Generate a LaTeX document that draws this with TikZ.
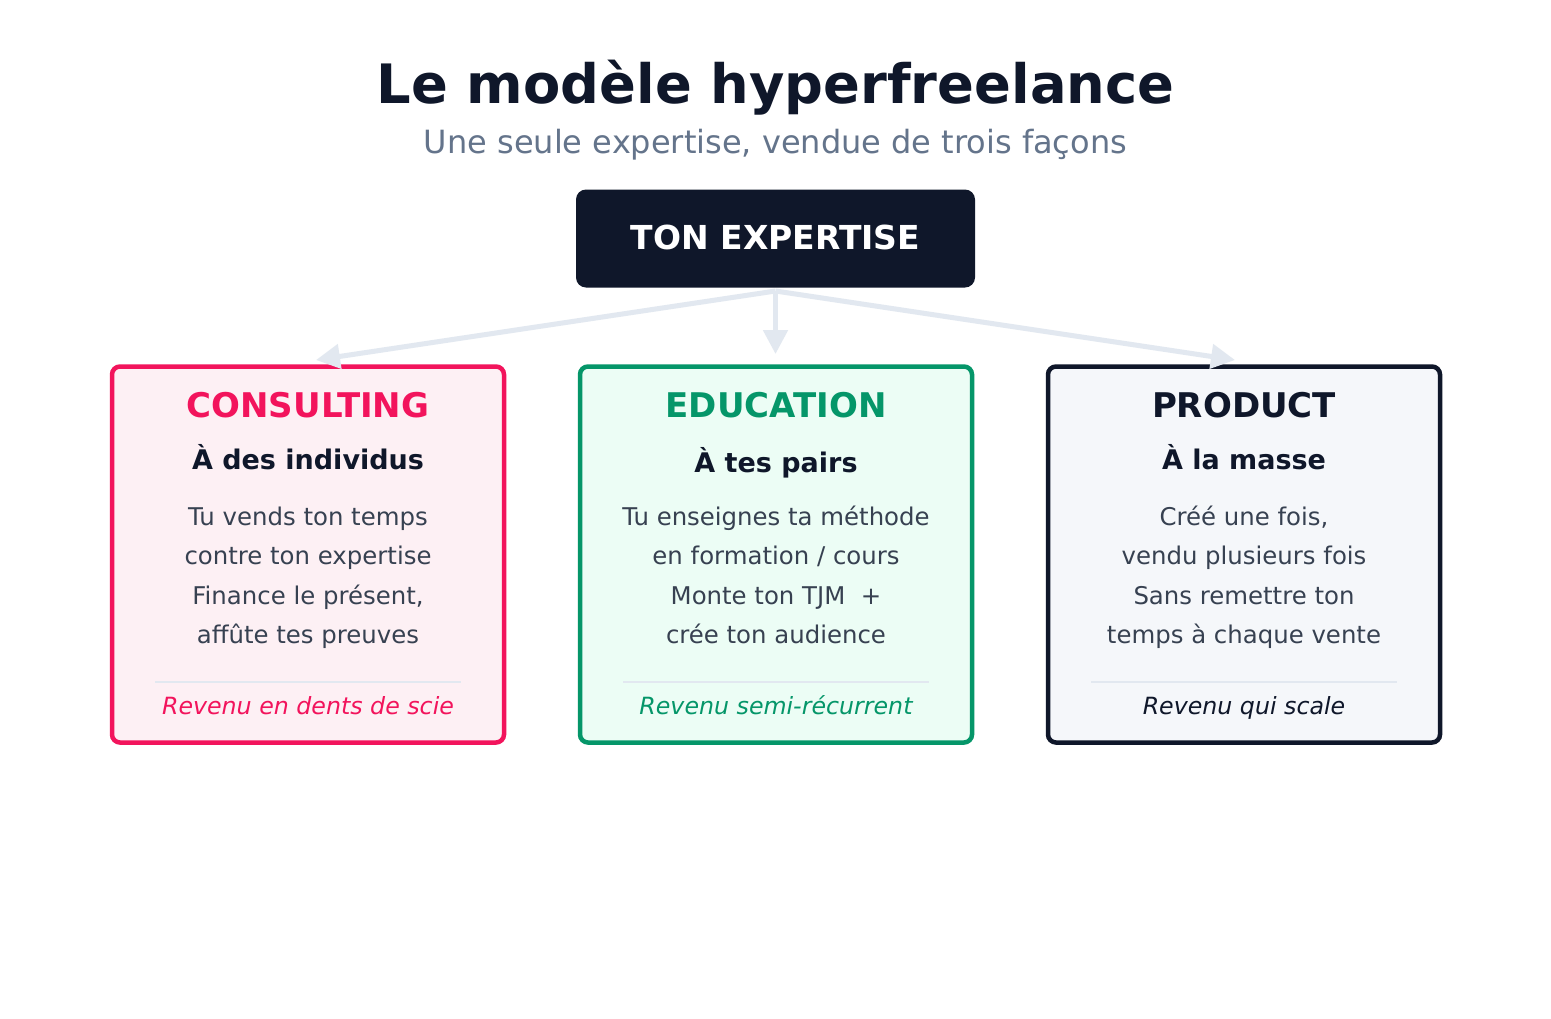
\documentclass[tikz,border=0pt]{standalone}
\usepackage{fontspec}
\setmainfont{DejaVu Sans}
\usetikzlibrary{arrows.meta}
\definecolor{ink}{HTML}{0F172A}
\definecolor{subgray}{HTML}{64748B}
\definecolor{bodygray}{HTML}{374151}
\definecolor{edge}{HTML}{E2E8F0}
\definecolor{pinkc}{HTML}{F2145C}
\definecolor{pinkbg}{HTML}{FDF0F4}
\definecolor{greenc}{HTML}{059669}
\definecolor{greenbg}{HTML}{ECFDF5}
\definecolor{darkbg}{HTML}{F5F7FA}
\tikzset{
  txt/.style={anchor=base, inner sep=0pt, outer sep=0pt},
  cardbox/.style={rectangle, rounded corners=8pt, line width=4.5pt, minimum width=392pt, minimum height=376pt, inner sep=0pt},
  cardtitle/.style={txt, font=\fontsize{34}{38}\selectfont\bfseries},
  cardsub/.style={txt, text=ink, font=\fontsize{27}{30}\selectfont\bfseries},
  bodytxt/.style={txt, text=bodygray, font=\fontsize{24.4}{28}\selectfont},
  foottxt/.style={txt, font=\fontsize{23.7}{28}\selectfont\itshape},
  sepline/.style={draw=edge, line width=2.5pt},
  arr/.style={draw=edge, line width=5pt, -{Triangle[length=24pt,width=24pt]}},
}
\begin{document}
\begin{tikzpicture}[x=1pt,y=-1pt]
\useasboundingbox[fill=white] (0,0) rectangle (1551,1018);

% title
\node[txt, text=ink, font=\fontsize{54.3}{60}\selectfont\bfseries] (title) at (775.5,103) {Le modèle hyperfreelance};
\node[txt, text=subgray, font=\fontsize{32}{36}\selectfont] (subtitle) at (775.5,153) {Une seule expertise, vendue de trois façons};

% top box
\node[rectangle, rounded corners=10pt, fill=ink, minimum width=399pt, minimum height=98pt, inner sep=0pt] (top) at (775.5,238.5) {};
\node[txt, text=white, font=\fontsize{33}{36}\selectfont\bfseries] (toptxt) at (775.5,249) {TON EXPERTISE};

% cards
\node[cardbox, draw=pinkc, fill=pinkbg] (c1) at (308,554.5) {};
\node[cardbox, draw=greenc, fill=greenbg] (c2) at (776,554.5) {};
\node[cardbox, draw=ink, fill=darkbg] (c3) at (1244,554.5) {};

% arrows
\coordinate (src) at (775.5,291);
\coordinate (t1) at (316,360);
\coordinate (t2) at (775.5,354);
\coordinate (t3) at (1235,360);
\draw[arr] (src) -- (t1);
\draw[arr] (src) -- (t2);
\draw[arr] (src) -- (t3);

% card 1
\node[cardtitle, text=pinkc] (c1t) at (308,417) {CONSULTING};
\node[cardsub] (c1s) at (308,469) {À des individus};
\node[bodytxt] (c1a) at (308,525) {Tu vends ton temps};
\node[bodytxt] (c1b) at (308,564.5) {contre ton expertise};
\node[bodytxt] (c1c) at (308,604) {Finance le présent,};
\node[bodytxt] (c1d) at (308,643.5) {affûte tes preuves};
\draw[sepline] (155,682) -- (461,682);
\node[foottxt, text=pinkc] (c1f) at (308,714) {Revenu en dents de scie};

% card 2
\node[cardtitle, text=greenc] (c2t) at (776,417) {EDUCATION};
\node[cardsub] (c2s) at (776,472) {À tes pairs};
\node[bodytxt] (c2a) at (776,525) {Tu enseignes ta méthode};
\node[bodytxt] (c2b) at (776,564.5) {en formation / cours};
\node[bodytxt] (c2c) at (776,604) {Monte ton TJM\ \ +};
\node[bodytxt] (c2d) at (776,643.5) {crée ton audience};
\draw[sepline] (623,682) -- (929,682);
\node[foottxt, text=greenc] (c2f) at (776,714) {Revenu semi-récurrent};

% card 3
\node[cardtitle, text=ink] (c3t) at (1244,417) {PRODUCT};
\node[cardsub] (c3s) at (1244,469) {À la masse};
\node[bodytxt] (c3a) at (1244,525) {Créé une fois,};
\node[bodytxt] (c3b) at (1244,564.5) {vendu plusieurs fois};
\node[bodytxt] (c3c) at (1244,604) {Sans remettre ton};
\node[bodytxt] (c3d) at (1244,643.5) {temps à chaque vente};
\draw[sepline] (1091,682) -- (1397,682);
\node[foottxt, text=ink] (c3f) at (1244,714) {Revenu qui scale};
\end{tikzpicture}
\end{document}
